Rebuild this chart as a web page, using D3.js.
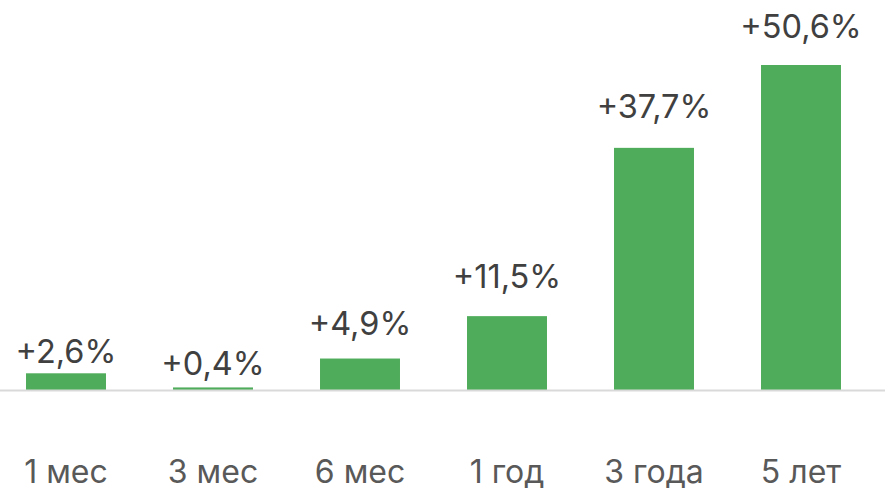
<!DOCTYPE html>
<html>
<head>
<meta charset="utf-8">
<script src="https://cdn.jsdelivr.net/npm/d3@7"></script>
<style>
  body { margin: 0; background: #fff; }
  svg { display: block; }
  text { font-family: Inter, "Noto Sans", sans-serif; }
</style>
</head>
<body>
<div id="chart"></div>
<script>
var periods = ["1 мес", "3 мес", "6 мес", "1 год", "3 года", "5 лет"];
var returns = [2.6, 0.4, 4.9, 11.5, 37.7, 50.6];

// distance between bar top and its label, per bar (as in the source)
var labelGap = [10, 12, 24, 28, 30, 27];

var width = 885, height = 501, baseY = 390;

var svg = d3.select('#chart').append('svg')
    .attr('width', width)
    .attr('height', height);

var x = d3.scaleBand()
    .domain(periods)
    .range([-7.5, 874.5])
    .paddingInner(0.456)
    .paddingOuter(0.228);

var y = d3.scaleLinear()
    .domain([0, 50.6])
    .range([baseY, 65]);

var fmt = function(v) { return '+' + v.toFixed(1).replace('.', ',') + '%'; };

svg.selectAll('.bar')
    .data(returns)
    .enter().append('rect')
    .attr('class', 'bar')
    .attr('x', (d, i) => x(periods[i]))
    .attr('y', d => y(d))
    .attr('width', x.bandwidth())
    .attr('height', d => baseY - y(d))
    .attr('fill', '#4fac5b');

// baseline
svg.append('line')
    .attr('x1', 0)
    .attr('x2', width)
    .attr('y1', baseY + 0.5)
    .attr('y2', baseY + 0.5)
    .attr('stroke', '#d9d9d9')
    .attr('stroke-width', 2);

svg.selectAll('.val')
    .data(returns)
    .enter().append('text')
    .attr('class', 'val')
    .attr('x', (d, i) => x(periods[i]) + x.bandwidth() / 2)
    .attr('y', (d, i) => y(d) - labelGap[i])
    .attr('text-anchor', 'middle')
    .attr('font-size', 32.5)
    .attr('fill', '#404040')
    .text(fmt);

var xAxis = svg.append('g')
    .attr('transform', 'translate(0,' + baseY + ')')
    .call(d3.axisBottom(x).tickSize(0).tickPadding(0));
xAxis.select('.domain').remove();
xAxis.selectAll('text')
    .attr('y', 93)
    .attr('dy', 0)
    .attr('font-size', 32)
    .attr('font-family', 'Inter, "Noto Sans", sans-serif')
    .attr('fill', '#595959');
</script>
</body>
</html>
